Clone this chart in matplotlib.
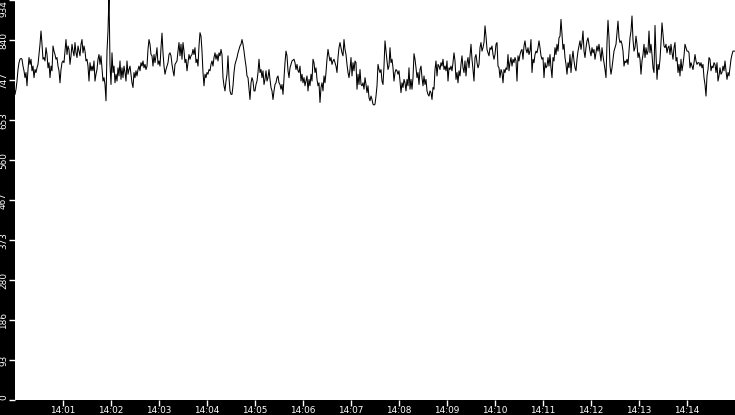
import matplotlib
matplotlib.use("Agg")
import matplotlib.pyplot as plt
import matplotlib.dates as mdates
import numpy as np
import pandas as pd

# readings, 14:00:00 -> 14:15:00, evenly spaced (one per 1.25 s)
seg_1 = [714, 726, 745, 772, 788, 796, 798, 796, 780, 769,
         753, 765, 734, 772, 800, 784, 796, 769, 780, 753,
         772, 765, 776, 784, 807, 831, 862, 831, 796, 800,
         792, 823, 807, 776, 788, 753, 780, 769, 827, 815,
         807, 796, 800, 780, 769, 741, 772, 788, 792, 788,
         815, 842, 807, 827, 819, 784, 804, 831, 815, 804,
         835, 811, 800, 827, 815, 804, 831, 842, 811, 827,
         815, 792, 796, 780, 745, 788, 769, 780, 769, 792,
         745, 761, 772, 796, 807, 784, 804, 776, 745, 753,
         737, 699, 815, 862, 948, 784, 737, 811, 765, 780,
         741, 761, 745, 776, 757, 792, 749, 776, 753, 780,
         765, 745, 792, 761, 772, 780, 761, 741, 730, 765]
seg_2 = [753, 769, 757, 772, 780, 769, 788, 780, 792, 776,
         784, 772, 780, 819, 842, 831, 807, 804, 780, 807,
         788, 804, 823, 784, 792, 780, 823, 857, 811, 780,
         761, 772, 780, 788, 807, 811, 804, 784, 769, 757,
         784, 788, 792, 815, 835, 804, 831, 796, 835, 815,
         788, 796, 769, 788, 807, 796, 804, 807, 819, 807,
         823, 788, 796, 780, 827, 858, 850, 815, 765, 734,
         761, 753, 765, 761, 772, 769, 784, 792, 780, 800,
         811, 796, 807, 792, 811, 804, 819, 807, 753, 734,
         722, 745, 761, 804, 753, 722, 714, 714, 734, 765,
         784, 792, 800, 811, 819, 827, 831, 842, 831, 815,
         796, 780, 757, 753, 726, 702, 741, 753, 745, 722]
seg_3 = [722, 737, 745, 765, 796, 765, 772, 753, 769, 737,
         749, 769, 745, 753, 772, 749, 730, 722, 702, 722,
         737, 741, 753, 757, 741, 737, 726, 737, 714, 753,
         788, 815, 804, 769, 753, 776, 784, 792, 794, 796,
         788, 772, 784, 769, 765, 780, 745, 761, 741, 753,
         734, 745, 757, 722, 749, 734, 761, 745, 796, 788,
         765, 776, 749, 734, 741, 695, 730, 741, 722, 757,
         741, 765, 796, 819, 804, 792, 800, 784, 792, 796,
         788, 780, 765, 800, 823, 835, 823, 811, 804, 842,
         819, 807, 784, 765, 753, 772, 800, 757, 788, 769,
         792, 788, 726, 761, 737, 772, 737, 734, 741, 726,
         753, 737, 718, 734, 706, 699, 710, 702, 691, 689]
seg_4 = [691, 710, 734, 784, 772, 765, 772, 745, 737, 780,
         839, 815, 792, 772, 780, 823, 788, 796, 776, 745,
         765, 772, 769, 761, 769, 745, 718, 741, 730, 749,
         741, 722, 749, 734, 776, 726, 749, 726, 753, 809,
         796, 776, 753, 765, 737, 772, 780, 753, 734, 757,
         737, 749, 722, 714, 710, 722, 718, 702, 730, 726,
         772, 792, 757, 784, 780, 772, 788, 780, 796, 772,
         780, 769, 792, 745, 776, 772, 780, 769, 788, 811,
         792, 749, 765, 741, 769, 757, 784, 804, 776, 765,
         792, 757, 788, 800, 776, 804, 831, 796, 772, 745,
         800, 807, 788, 776, 784, 823, 835, 815, 823, 835,
         874, 850, 819, 811, 804, 823, 819, 827, 807, 796]
seg_5 = [807, 831, 835, 780, 776, 753, 772, 765, 741, 772,
         765, 776, 772, 807, 769, 788, 800, 780, 796, 788,
         800, 792, 745, 804, 792, 807, 815, 819, 796, 827,
         839, 819, 811, 823, 807, 815, 842, 765, 796, 788,
         807, 815, 811, 823, 839, 823, 804, 796, 800, 753,
         788, 776, 780, 800, 780, 807, 776, 753, 800, 792,
         823, 807, 831, 815, 846, 850, 889, 854, 819, 831,
         800, 784, 761, 788, 776, 807, 765, 796, 815, 792,
         776, 769, 796, 815, 827, 839, 819, 835, 862, 815,
         800, 823, 839, 846, 831, 815, 804, 823, 811, 819,
         796, 811, 827, 815, 831, 811, 792, 823, 804, 788,
         772, 753, 835, 887, 846, 780, 761, 776, 796, 815]
seg_6 = [823, 831, 858, 885, 846, 835, 839, 831, 815, 780,
         792, 788, 796, 784, 815, 846, 862, 897, 842, 815,
         823, 850, 831, 800, 811, 796, 761, 792, 807, 831,
         800, 823, 807, 815, 862, 811, 831, 807, 776, 765,
         875, 807, 749, 784, 772, 796, 835, 881, 854, 827,
         823, 831, 811, 823, 827, 807, 831, 811, 796, 823,
         835, 792, 800, 765, 784, 757, 796, 769, 784, 804,
         831, 823, 815, 815, 811, 776, 788, 780, 772, 788,
         807, 792, 784, 788, 788, 780, 788, 776, 784, 753,
         737, 710, 757, 772, 800, 796, 769, 780, 776, 788,
         784, 765, 788, 745, 757, 776, 761, 765, 780, 769,
         792, 769, 749, 765, 757, 776, 796, 807, 815, 815,
         815]

values = seg_1 + seg_2 + seg_3 + seg_4 + seg_5 + seg_6
times = pd.date_range("2024-01-01 14:00:00", "2024-01-01 14:15:00",
                      periods=len(values))

y_ticks = np.arange(11) * 93.4
y_labels = ["0", "93", "186", "280", "373", "467", "560", "653", "747",
            "840", "934"]
x_ticks = pd.date_range("2024-01-01 14:01", "2024-01-01 14:14", freq="1min")

fig = plt.figure(figsize=(7.35, 4.15), dpi=100, facecolor="black")
ax = fig.add_axes([15 / 735, 15 / 415, 720 / 735, 400 / 415])
ax.set_facecolor("white")

ax.plot(times, values, color="black", lw=0.75)

ax.set_xlim(times[0], times[-1])
ax.set_ylim(0, 934.4)
ax.set_yticks(y_ticks)
ylabs = ax.set_yticklabels(y_labels, rotation=90, va="center")
# end labels are kept inside the figure
ylabs[0].set_va("bottom")
ylabs[-1].set_va("top")
ax.set_xticks(x_ticks)
ax.xaxis.set_major_formatter(mdates.DateFormatter("%H:%M"))

for s in ax.spines.values():
    s.set_visible(False)

ax.tick_params(colors="white", labelcolor="white", labelsize=6.4,
               length=4, width=1, direction="out")
ax.tick_params(axis="y", pad=1)
ax.tick_params(axis="x", pad=0.5)

fig.savefig("out.png", dpi=100, facecolor="black")
